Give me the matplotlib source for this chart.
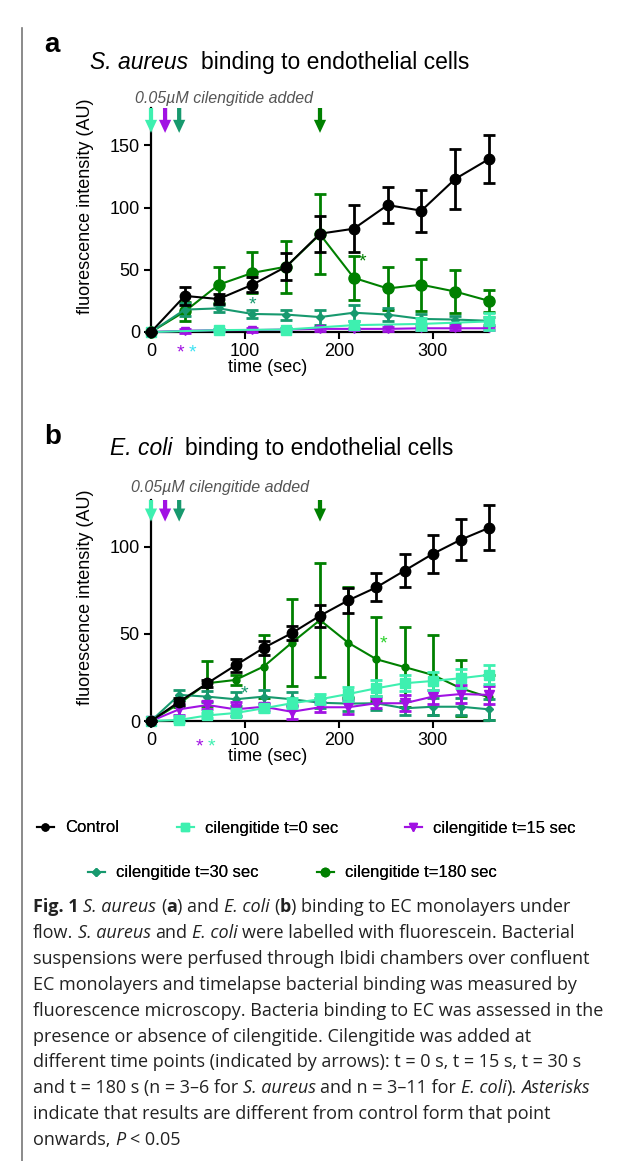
import numpy as np
import matplotlib
matplotlib.use('Agg')
import matplotlib.pyplot as plt
from matplotlib.lines import Line2D

plt.rcParams['font.family'] = ['Liberation Sans', 'DejaVu Sans']

# --- Daten, Panel a (S. aureus) ---
ta = [0, 36, 72, 108, 144, 180, 216, 252, 288, 324, 360]
ta_t0 = [0, 72, 144, 216, 288, 360]
ctrl_a = [0, 29, 26.5, 38, 52.5, 79, 83, 102, 97.5, 123, 139]
ctrl_a_err = [0, 7, 4, 6, 11, 14.5, 19, 14.5, 17, 24, 19]
t0_a = [0, 1.5, 2, 5.5, 6.5, 8.5]
t0_a_err = [0, 1, 1.5, 3, 5, 7]
t15_a = [0, 1, 1.5, 1.5, 2, 2.5, 2.5, 2.5, 3, 3, 3]
t15_a_err = [0, 1.5, 1, 1.5, 1, 1.5, 1, 1.5, 1, 1.5, 1]
t30_a = [0, 18, 19, 14.5, 14, 12, 15.5, 14, 10.5, 10, 9]
t30_a_err = [0, 5, 3, 3, 4, 6, 6.5, 5, 4, 3, 3]
t180_a = [0, 16.5, 38, 47.5, 52.5, 78.5, 43.5, 35, 38, 32.5, 25]
t180_a_err = [0, 7.5, 14.5, 16.5, 21, 32, 17.5, 17.5, 21, 17, 9]

# --- Daten, Panel b (E. coli) ---
tb = [0, 30, 60, 90, 120, 150, 180, 210, 240, 270, 300, 330, 360]
ctrl_b = [0, 11, 21.7, 32, 42, 50.5, 60.5, 69.3, 76.8, 86.4, 96, 104.2, 111]
ctrl_b_err = [0, 2, 2, 3.8, 4, 4.2, 6.2, 7.2, 8, 9.3, 10.7, 11.7, 12.9]
t0_b = [0, 0.6, 3.2, 4.6, 7.3, 10.2, 12.5, 15.5, 18.8, 21.7, 23, 24.6, 26.5]
t0_b_err = [0, 1, 1.5, 2, 2, 3, 3, 4, 4.5, 4.5, 5, 5.5, 5.5]
t15_b = [0, 6.7, 9.2, 6.7, 8.2, 5.3, 7.9, 7.9, 10.2, 10.2, 14, 15.5, 15]
t15_b_err = [0, 3, 2.5, 4, 2, 4, 3, 4, 3, 4.5, 4, 5, 5]
t30_b = [0, 15, 14, 12.5, 14, 12.5, 10.5, 10, 10.2, 7.3, 8.2, 8.2, 6.7]
t30_b_err = [0, 3, 3, 4, 4, 4, 3, 4, 4, 4, 5, 5, 6]
t180_b = [0, 10, 21.7, 23.6, 31.3, 45, 58, 45, 35.5, 31, 26.5, 18.8, 13.6]
t180_b_err = [0, 2, 13, 3, 18, 25, 33, 32, 24, 23, 23, 16, 13]

add_times = [0, 15, 30, 180]
labels = ['Control', 'cilengitide t=0 sec', 'cilengitide t=15 sec',
          'cilengitide t=30 sec', 'cilengitide t=180 sec']

c_ctrl = 'black'
c_t0 = '#3ef0b0'
c_t15 = '#a112e3'
c_t30 = '#17996e'
c_t180 = '#008000'
arrow_cols = [c_t0, c_t15, c_t30, c_t180]

W, H = 625, 1161
fig = plt.figure(figsize=(W / 100, H / 100), dpi=100)
renderer = fig.canvas.get_renderer()


def fx(px):
    return px / W


def fy(py):
    return 1 - py / H


def text_w(s, **kw):
    t = fig.text(0, 0, s, **kw)
    w = t.get_window_extent(renderer).width
    t.remove()
    return w


def draw_runs(x0, y0, runs, size, family, color='#222222'):
    # Text in Stücken (normal / kursiv / fett) nebeneinander setzen
    x = x0
    for txt, fmt in runs:
        kw = dict(fontsize=size, family=family, color=color)
        if 'b' in fmt:
            kw['weight'] = 'bold'
        if 'i' in fmt:
            kw['style'] = 'italic'
        sw = text_w('a a', **kw) - text_w('aa', **kw)
        lead = len(txt) - len(txt.lstrip(' '))
        trail = len(txt) - len(txt.rstrip(' '))
        core = txt.strip(' ')
        x += lead * sw
        if core:
            t = fig.text(fx(x), fy(y0), core, ha='left', va='baseline', **kw)
            x += t.get_window_extent(renderer).width
        x += trail * sw


def errline(ax, t, y, e, col, marker, ms, z, lw=1.5):
    cont = ax.errorbar(t, y, yerr=e, color=col, marker=marker, ms=ms, lw=lw,
                       elinewidth=2, capsize=4, capthick=2, zorder=z)
    cont[0].set_clip_on(False)
    for a in list(cont[1]) + list(cont[2]):
        a.set_clip_on(False)


def style_axes(ax, ymax, yticks):
    ax.set_xlim(0, 360)
    ax.set_ylim(0, ymax)
    ax.spines['top'].set_visible(False)
    ax.spines['right'].set_visible(False)
    for s in ['left', 'bottom']:
        ax.spines[s].set_linewidth(1.6)
    ax.set_xticks([0, 100, 200, 300])
    ax.set_yticks(yticks)
    ax.tick_params(direction='out', length=5, width=1.5, labelsize=13, pad=3)
    ax.set_xlabel('time (sec)', fontsize=13)
    ax.set_ylabel('fluorescence intensity (AU)', fontsize=13)
    ax.xaxis.set_label_coords(0.346, -0.12)
    ax.yaxis.set_label_coords(-0.168, 0.56)


def arrows(ax, top, tip, head_len):
    for t, c in zip(add_times, arrow_cols):
        ax.arrow(t, top, 0, tip - top, width=4.5, head_width=13, head_length=head_len,
                 length_includes_head=True, color=c, clip_on=False, zorder=6, lw=0)


# ---------- Panel a ----------
ax1 = fig.add_axes([fx(151), fy(332), fx(489) - fx(151), fy(108) - fy(332)])
errline(ax1, ta, t180_a, t180_a_err, c_t180, 'o', 8, 3)
errline(ax1, ta, t30_a, t30_a_err, c_t30, 'D', 4.5, 4)
errline(ax1, ta, t15_a, t15_a_err, c_t15, 'v', 6, 4.5)
errline(ax1, ta_t0, t0_a, t0_a_err, c_t0, 's', 7, 5)
errline(ax1, ta, ctrl_a, ctrl_a_err, c_ctrl, 'o', 7.5, 5.5)
style_axes(ax1, 180, [0, 50, 100, 150])
arrows(ax1, 180, 160, 10.5)
ax1.text(-17, 188, '0.05µM cilengitide added', fontsize=11.5, style='italic',
         color='#555555', va='center', ha='left')
ax1.text(108, 22, '*', color=c_t30, fontsize=14, ha='center', va='center')
ax1.text(225, 56, '*', color=c_t180, fontsize=14, ha='center', va='center')
ax1.text(31, -17, '*', color=c_t15, fontsize=14, ha='center', va='center', clip_on=False)
ax1.text(44, -17, '*', color='#3de2f2', fontsize=14, ha='center', va='center', clip_on=False)

# ---------- Panel b ----------
ax2 = fig.add_axes([fx(151), fy(721), fx(489) - fx(151), fy(500) - fy(721)])
errline(ax2, tb, t180_b, t180_b_err, c_t180, 'o', 5, 3)
errline(ax2, tb, t30_b, t30_b_err, c_t30, 'D', 4.5, 4)
errline(ax2, tb, t15_b, t15_b_err, c_t15, 'v', 7, 4.5)
errline(ax2, tb, t0_b, t0_b_err, c_t0, 's', 7, 5)
errline(ax2, tb, ctrl_b, ctrl_b_err, c_ctrl, 'o', 7.5, 5.5)
style_axes(ax2, 127, [0, 50, 100])
arrows(ax2, 127, 114.6, 7.5)
ax2.text(-21, 134, '0.05µM cilengitide added', fontsize=11.5, style='italic',
         color='#555555', va='center', ha='left')
ax2.text(100, 15.5, '*', color=c_t30, fontsize=14, ha='center', va='center')
ax2.text(248, 44, '*', color='#2bd12b', fontsize=14, ha='center', va='center')
ax2.text(52, -15, '*', color=c_t15, fontsize=14, ha='center', va='center', clip_on=False)
ax2.text(64, -15, '*', color=c_t0, fontsize=14, ha='center', va='center', clip_on=False)

# Titel und Panelbuchstaben
fig.text(fx(44), fy(45), 'a', fontsize=20, weight='bold', va='center', ha='left')
fig.text(fx(44), fy(437), 'b', fontsize=20, weight='bold', va='center', ha='left')
draw_runs(90, 69, [('S. aureus', 'i'), ('  binding to endothelial cells', '')],
          16.5, 'Liberation Sans', color='black')
draw_runs(110, 455, [('E. coli', 'i'), ('  binding to endothelial cells', '')],
          16.5, 'Liberation Sans', color='black')

# Legende, jeder Eintrag an seiner Stelle
marks = [(c_ctrl, 'o', 5), (c_t0, 's', 6), (c_t15, 'v', 6), (c_t30, 'D', 4), (c_t180, 'o', 6)]
handles = [Line2D([], [], color=c, marker=m, ms=s, lw=1.5) for c, m, s in marks]
leg_pos = [(37, 828), (177, 828), (405, 828), (88, 873), (317, 873)]
for h, lab, (px, py) in zip(handles, labels, leg_pos):
    lg = fig.legend([h], [lab], loc='center left', bbox_to_anchor=(fx(px), fy(py)),
                    frameon=False, fontsize=12, handlelength=1.0, handletextpad=0.7,
                    borderpad=0, borderaxespad=0)
    fig.add_artist(lg)

# Bildunterschrift
cap_runs = [
    [('Fig. 1 ', 'b'), ('S. aureus', 'i'), (' (', ''), ('a', 'b'), (') and ', ''),
     ('E. coli', 'i'), (' (', ''), ('b', 'b'), (') binding to EC monolayers under', '')],
    [('flow. ', ''), ('S. aureus', 'i'), (' and ', ''), ('E. coli', 'i'),
     (' were labelled with fluorescein. Bacterial', '')],
    [('suspensions were perfused through Ibidi chambers over confluent', '')],
    [('EC monolayers and timelapse bacterial binding was measured by', '')],
    [('fluorescence microscopy. Bacteria binding to EC was assessed in the', '')],
    [('presence or absence of cilengitide. Cilengitide was added at', '')],
    [('different time points (indicated by arrows): t = 0 s, t = 15 s, t = 30 s', '')],
    [('and t = 180 s (n = 3–6 for ', ''), ('S. aureus', 'i'), (' and n = 3–11 for ', ''),
     ('E. coli', 'i'), (').', ''), (' Asterisks', 'i')],
    [('indicate that results are different from control form that point', '')],
    [('onwards, ', ''), ('P', 'i'), (' < 0.05', '')],
]
for i, runs in enumerate(cap_runs):
    draw_runs(33, 912 + i * 25.9, runs, 13, 'Open Sans')

# Rahmenlinie links
fig.add_artist(Line2D([fx(22), fx(22)], [fy(28), 0], color='#777777', lw=1.2))

fig.savefig('out.png', dpi=100)
